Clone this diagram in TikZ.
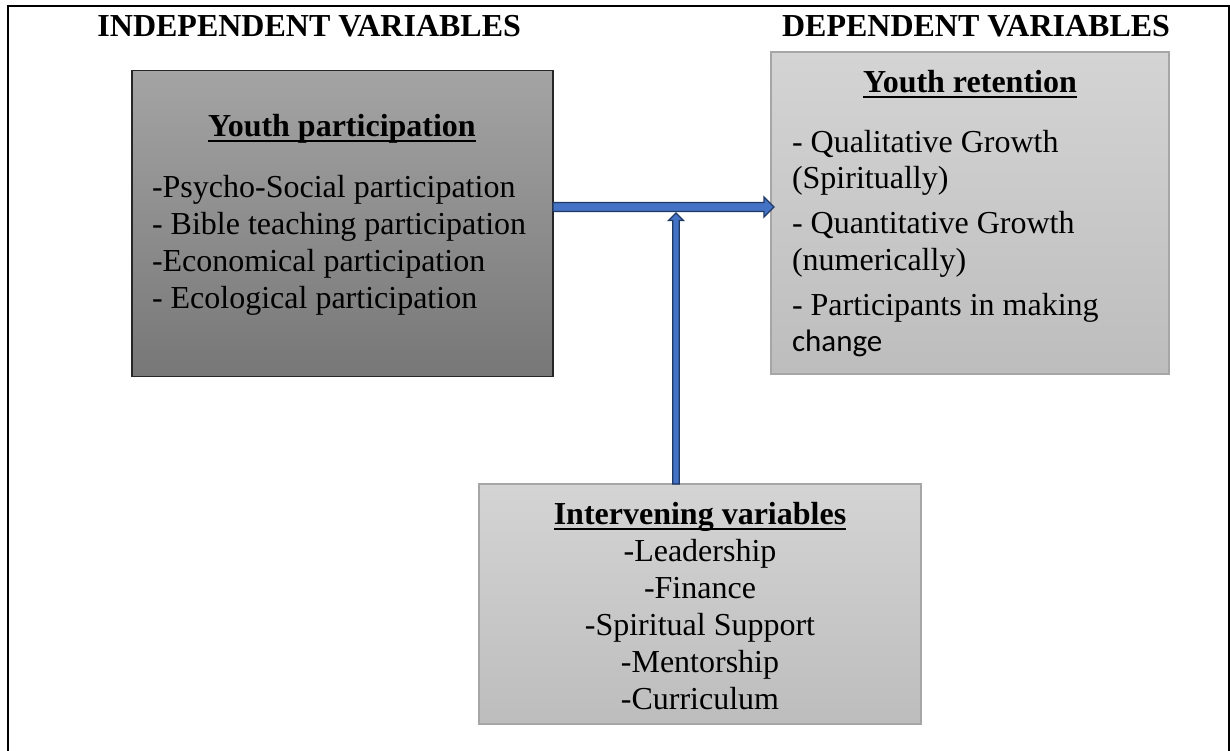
\documentclass[tikz,border=0pt]{standalone}
\usepackage{fontspec}
\setmainfont{Liberation Serif}
\newfontfamily\sansbody{Carlito}
\usetikzlibrary{calc}

\definecolor{arrowfill}{HTML}{4472C4}
\definecolor{arrowline}{HTML}{1F3864}
\definecolor{darktop}{HTML}{A4A4A4}
\definecolor{darkbot}{HTML}{777777}
\definecolor{darkedge}{HTML}{262626}
\definecolor{lighttop}{HTML}{D4D4D4}
\definecolor{lightbot}{HTML}{BDBDBD}
\definecolor{lightedge}{HTML}{A6A6A6}

% underline at a fixed depth, crossing descenders
\newcommand\ulword[1]{\setbox0\hbox{#1}\rlap{\rule[-6pt]{\wd0}{2.2pt}}\box0}

\tikzset{
  every node/.style={inner sep=0pt, outer sep=0pt, font=\fontsize{32}{37}\selectfont},
  darkbox/.style={rectangle, draw=darkedge, line width=1.5pt, top color=darktop, bottom color=darkbot, anchor=north west},
  lightbox/.style={rectangle, draw=lightedge, line width=1.5pt, top color=lighttop, bottom color=lightbot, anchor=north west},
  heading/.style={font=\fontsize{32}{37}\selectfont\bfseries},
  itemline/.style={anchor=base west},
  centreline/.style={anchor=base},
  blockarrow/.style={fill=arrowfill, draw=arrowline, line width=1.3pt, line join=miter},
}

\begin{document}
\begin{tikzpicture}[x=1pt, y=-1pt]
\useasboundingbox (0,0) rectangle (1230,750);
\fill[white] (0,0) rectangle (1230,750);

% open page frame
\draw[line width=2pt] (7.7,751) -- (7.7,5.7) -- (1229,5.7) -- (1229,751);

% column headings
\node[heading, anchor=base east] (indep) at (521,36) {INDEPENDENT VARIABLES};
\node[heading, anchor=base east] (dep) at (1170,36) {DEPENDENT VARIABLES};

% boxes
\node[darkbox, minimum width=421pt, minimum height=306pt] (yp) at (132,70.5) {};
\node[lightbox, minimum width=398pt, minimum height=322pt] (yr) at (771,52) {};
\node[lightbox, minimum width=442pt, minimum height=240pt] (iv) at (479,484) {};

% youth participation
\node[heading, centreline] (yptitle) at (342,136) {\ulword{Youth participation}};
\foreach \t [count=\i] in {-Psycho-Social participation,- Bible teaching participation,-Economical participation,- Ecological participation}
  \node[itemline] (yp-\i) at (152,{160+37*\i}) {\t};

% youth retention
\node[heading, centreline] (yrtitle) at (970,92) {\ulword{Youth retention}};
\node[itemline] (yr-1) at (792,152) {- Qualitative Growth};
\node[itemline] (yr-2) at (792,188) {(Spiritually)};
\node[itemline] (yr-3) at (792,233) {- Quantitative Growth};
\node[itemline] (yr-4) at (792,270) {(numerically)};
\node[itemline] (yr-5) at (792,315) {- Participants in making};
\node[itemline, font=\fontsize{31}{37}\sansbody] (yr-6) at (792,351) {change};

% intervening variables
\node[heading, centreline] (ivtitle) at (700,524) {\ulword{Intervening variables}};
\foreach \t [count=\i] in {-Leadership,-Finance,-Spiritual Support,-Mentorship,-Curriculum}
  \node[centreline] (iv-\i) at (700,{524+37*\i}) {\t};

% block arrow: participation -> retention
\coordinate (h0) at (yp.east |- 0,207);
\coordinate (h1) at ($(yr.west |- 0,207)+(3,0)$);
\draw[blockarrow] ($(h0)+(0,-4.5)$) -- ($(h1)+(-10,-4.5)$) -- ($(h1)+(-10,-10)$) -- (h1)
  -- ($(h1)+(-10,10)$) -- ($(h1)+(-10,4.5)$) -- ($(h0)+(0,4.5)$) -- cycle;

% block arrow: intervening variables -> relation
\coordinate (v0) at (676,0 |- iv.north);
\coordinate (v1) at ($(676,0 |- h0)+(0,6)$);
\draw[blockarrow] ($(v0)+(-3.3,0)$) -- ($(v1)+(-3.3,7.5)$) -- ($(v1)+(-7.5,7.5)$) -- (v1)
  -- ($(v1)+(7.5,7.5)$) -- ($(v1)+(3.3,7.5)$) -- ($(v0)+(3.3,0)$) -- cycle;
\end{tikzpicture}
\end{document}
